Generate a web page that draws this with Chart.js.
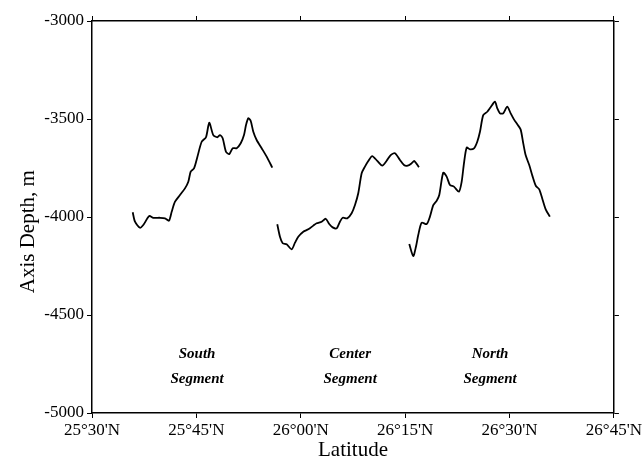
<!DOCTYPE html>
<html>
<head>
<meta charset="utf-8">
<title>Axis Depth vs Latitude</title>
<script src="https://cdn.jsdelivr.net/npm/chart.js@4/dist/chart.umd.min.js"></script>
<style>
  html, body { margin: 0; padding: 0; background: #fff; }
  canvas { display: block; }
</style>
</head>
<body>
<canvas id="c" width="644" height="460"></canvas>
<script>
// Latitude in minutes north of 25°00'N; depth in metres.
const southLat = [35.85, 36.18, 36.90, 37.37, 38.23, 38.81, 39.77, 40.49, 41.06, 41.45, 41.93, 42.64, 43.36, 43.84, 44.18, 44.66, 45.13, 45.76, 46.38, 46.85, 47.43, 48.00, 48.39, 48.78, 49.25, 49.73, 50.22, 50.79, 51.37, 51.84, 52.13, 52.46, 52.80, 53.18, 53.66, 54.38, 55.10, 55.91];
const southDepth = [-3976, -4024, -4055, -4041, -3995, -4004, -4004, -4007, -4019, -3973, -3922, -3888, -3854, -3820, -3769, -3752, -3695, -3616, -3593, -3519, -3582, -3593, -3582, -3598, -3667, -3679, -3649, -3649, -3624, -3582, -3531, -3496, -3509, -3565, -3607, -3649, -3692, -3748];

const centerLat = [56.62, 57.01, 57.40, 57.97, 58.69, 59.17, 59.64, 60.36, 61.08, 61.80, 62.28, 63.00, 63.58, 64.09, 64.58, 65.16, 65.63, 66.02, 66.68, 67.31, 67.79, 68.26, 68.75, 69.22, 69.70, 70.27, 70.99, 71.71, 72.34, 72.92, 73.53, 74.25, 74.83, 75.36, 75.93, 76.31, 76.98];
const centerDepth = [-4037, -4101, -4134, -4139, -4165, -4131, -4101, -4075, -4063, -4044, -4032, -4024, -4009, -4036, -4053, -4058, -4024, -4004, -4007, -3981, -3939, -3879, -3777, -3743, -3714, -3689, -3714, -3738, -3713, -3684, -3675, -3709, -3735, -3738, -3726, -3714, -3746];

const northLat = [75.59, 76.16, 76.55, 76.88, 77.37, 78.09, 78.56, 79.04, 79.53, 79.90, 80.47, 80.96, 81.44, 82.01, 82.73, 83.12, 83.45, 83.84, 84.31, 84.89, 85.36, 85.75, 86.22, 86.80, 87.28, 87.90, 88.23, 88.62, 89.09, 89.67, 90.16, 90.63, 91.11, 91.59, 91.97, 92.31, 92.83, 93.32, 93.79, 94.27, 94.76, 95.23, 95.80];
const northDepth = [-4138, -4199, -4152, -4092, -4029, -4036, -3998, -3939, -3917, -3888, -3774, -3794, -3837, -3845, -3871, -3820, -3726, -3646, -3655, -3650, -3616, -3565, -3480, -3463, -3440, -3412, -3445, -3471, -3471, -3437, -3471, -3502, -3527, -3553, -3624, -3684, -3735, -3794, -3842, -3859, -3913, -3964, -3998];

const latTickLabels = ["25°30'N", "25°45'N", "26°00'N", "26°15'N", "26°30'N", "26°45'N"];
const depthTickLabels = ["-5000", "-4500", "-4000", "-3500", "-3000"];
const segmentNames = [["South", "Segment"], ["Center", "Segment"], ["North", "Segment"]];
const depthTitle = 'Axis Depth, m';

const SERIF = "'Liberation Serif', 'DejaVu Serif', serif";

function toPoints(xs, ys) {
  return xs.map((x, i) => ({ x: x, y: ys[i] }));
}

function segmentSet(xs, ys) {
  return {
    data: toPoints(xs, ys),
    showLine: true,
    borderColor: '#000',
    borderWidth: 1.8,
    pointRadius: 0,
    tension: 0.25,
    fill: false
  };
}

// Segment names under each profile (anchored in data units) and the
// depth-axis title, which sits a little below the middle of the axis.
const textPlugin = {
  id: 'chartText',
  afterDatasetsDraw(chart) {
    const { ctx, scales } = chart;
    const anchors = [45.1, 67.1, 87.2];
    ctx.save();
    ctx.fillStyle = '#000';
    ctx.font = 'bold italic 15px ' + SERIF;
    ctx.textAlign = 'center';
    ctx.textBaseline = 'middle';
    segmentNames.forEach((lines, i) => {
      const px = scales.x.getPixelForValue(anchors[i]);
      ctx.fillText(lines[0], px, scales.y.getPixelForValue(-4700));
      ctx.fillText(lines[1], px, scales.y.getPixelForValue(-4825));
    });

    ctx.font = '21px ' + SERIF;
    ctx.translate(28, scales.y.getPixelForValue(-4075));
    ctx.rotate(-Math.PI / 2);
    ctx.fillText(depthTitle, 0, 0);
    ctx.restore();
  }
};

const frameGrid = {
  drawOnChartArea: false,
  drawTicks: true,
  tickLength: 5,
  color: '#000',
  lineWidth: 1
};
const frameBorder = { display: true, color: '#000', width: 1.5 };

new Chart(document.getElementById('c'), {
  type: 'scatter',
  data: {
    datasets: [
      segmentSet(southLat, southDepth),
      segmentSet(centerLat, centerDepth),
      segmentSet(northLat, northDepth)
    ]
  },
  options: {
    responsive: false,
    animation: false,
    devicePixelRatio: 1,
    layout: { padding: 0 },
    plugins: { legend: { display: false }, tooltip: { enabled: false } },
    scales: {
      x: {
        type: 'linear',
        position: 'bottom',
        min: 30,
        max: 105,
        ticks: {
          stepSize: 15,
          color: '#000',
          padding: 2,
          maxRotation: 0,
          font: { family: SERIF, size: 17 },
          callback: (v, i) => latTickLabels[i]
        },
        grid: frameGrid,
        border: frameBorder,
        title: {
          display: true,
          text: 'Latitude',
          color: '#000',
          font: { family: SERIF, size: 21, lineHeight: 1 },
          padding: { top: 0, bottom: -1 }
        },
        afterFit(scale) { scale.height = 47; }
      },
      x2: {
        type: 'linear',
        position: 'top',
        min: 30,
        max: 105,
        ticks: { stepSize: 15, callback: () => '' },
        grid: frameGrid,
        border: frameBorder,
        afterFit(scale) { scale.height = 21; }
      },
      y: {
        type: 'linear',
        position: 'left',
        min: -5000,
        max: -3000,
        ticks: {
          stepSize: 500,
          color: '#000',
          padding: 3,
          font: { family: SERIF, size: 17 },
          callback: (v, i) => depthTickLabels[i]
        },
        grid: frameGrid,
        border: frameBorder,
        afterFit(scale) { scale.width = 92; }
      },
      y2: {
        type: 'linear',
        position: 'right',
        min: -5000,
        max: -3000,
        ticks: { stepSize: 500, callback: () => '' },
        grid: frameGrid,
        border: frameBorder,
        afterFit(scale) { scale.width = 30; }
      }
    }
  },
  plugins: [textPlugin]
});
</script>
</body>
</html>
